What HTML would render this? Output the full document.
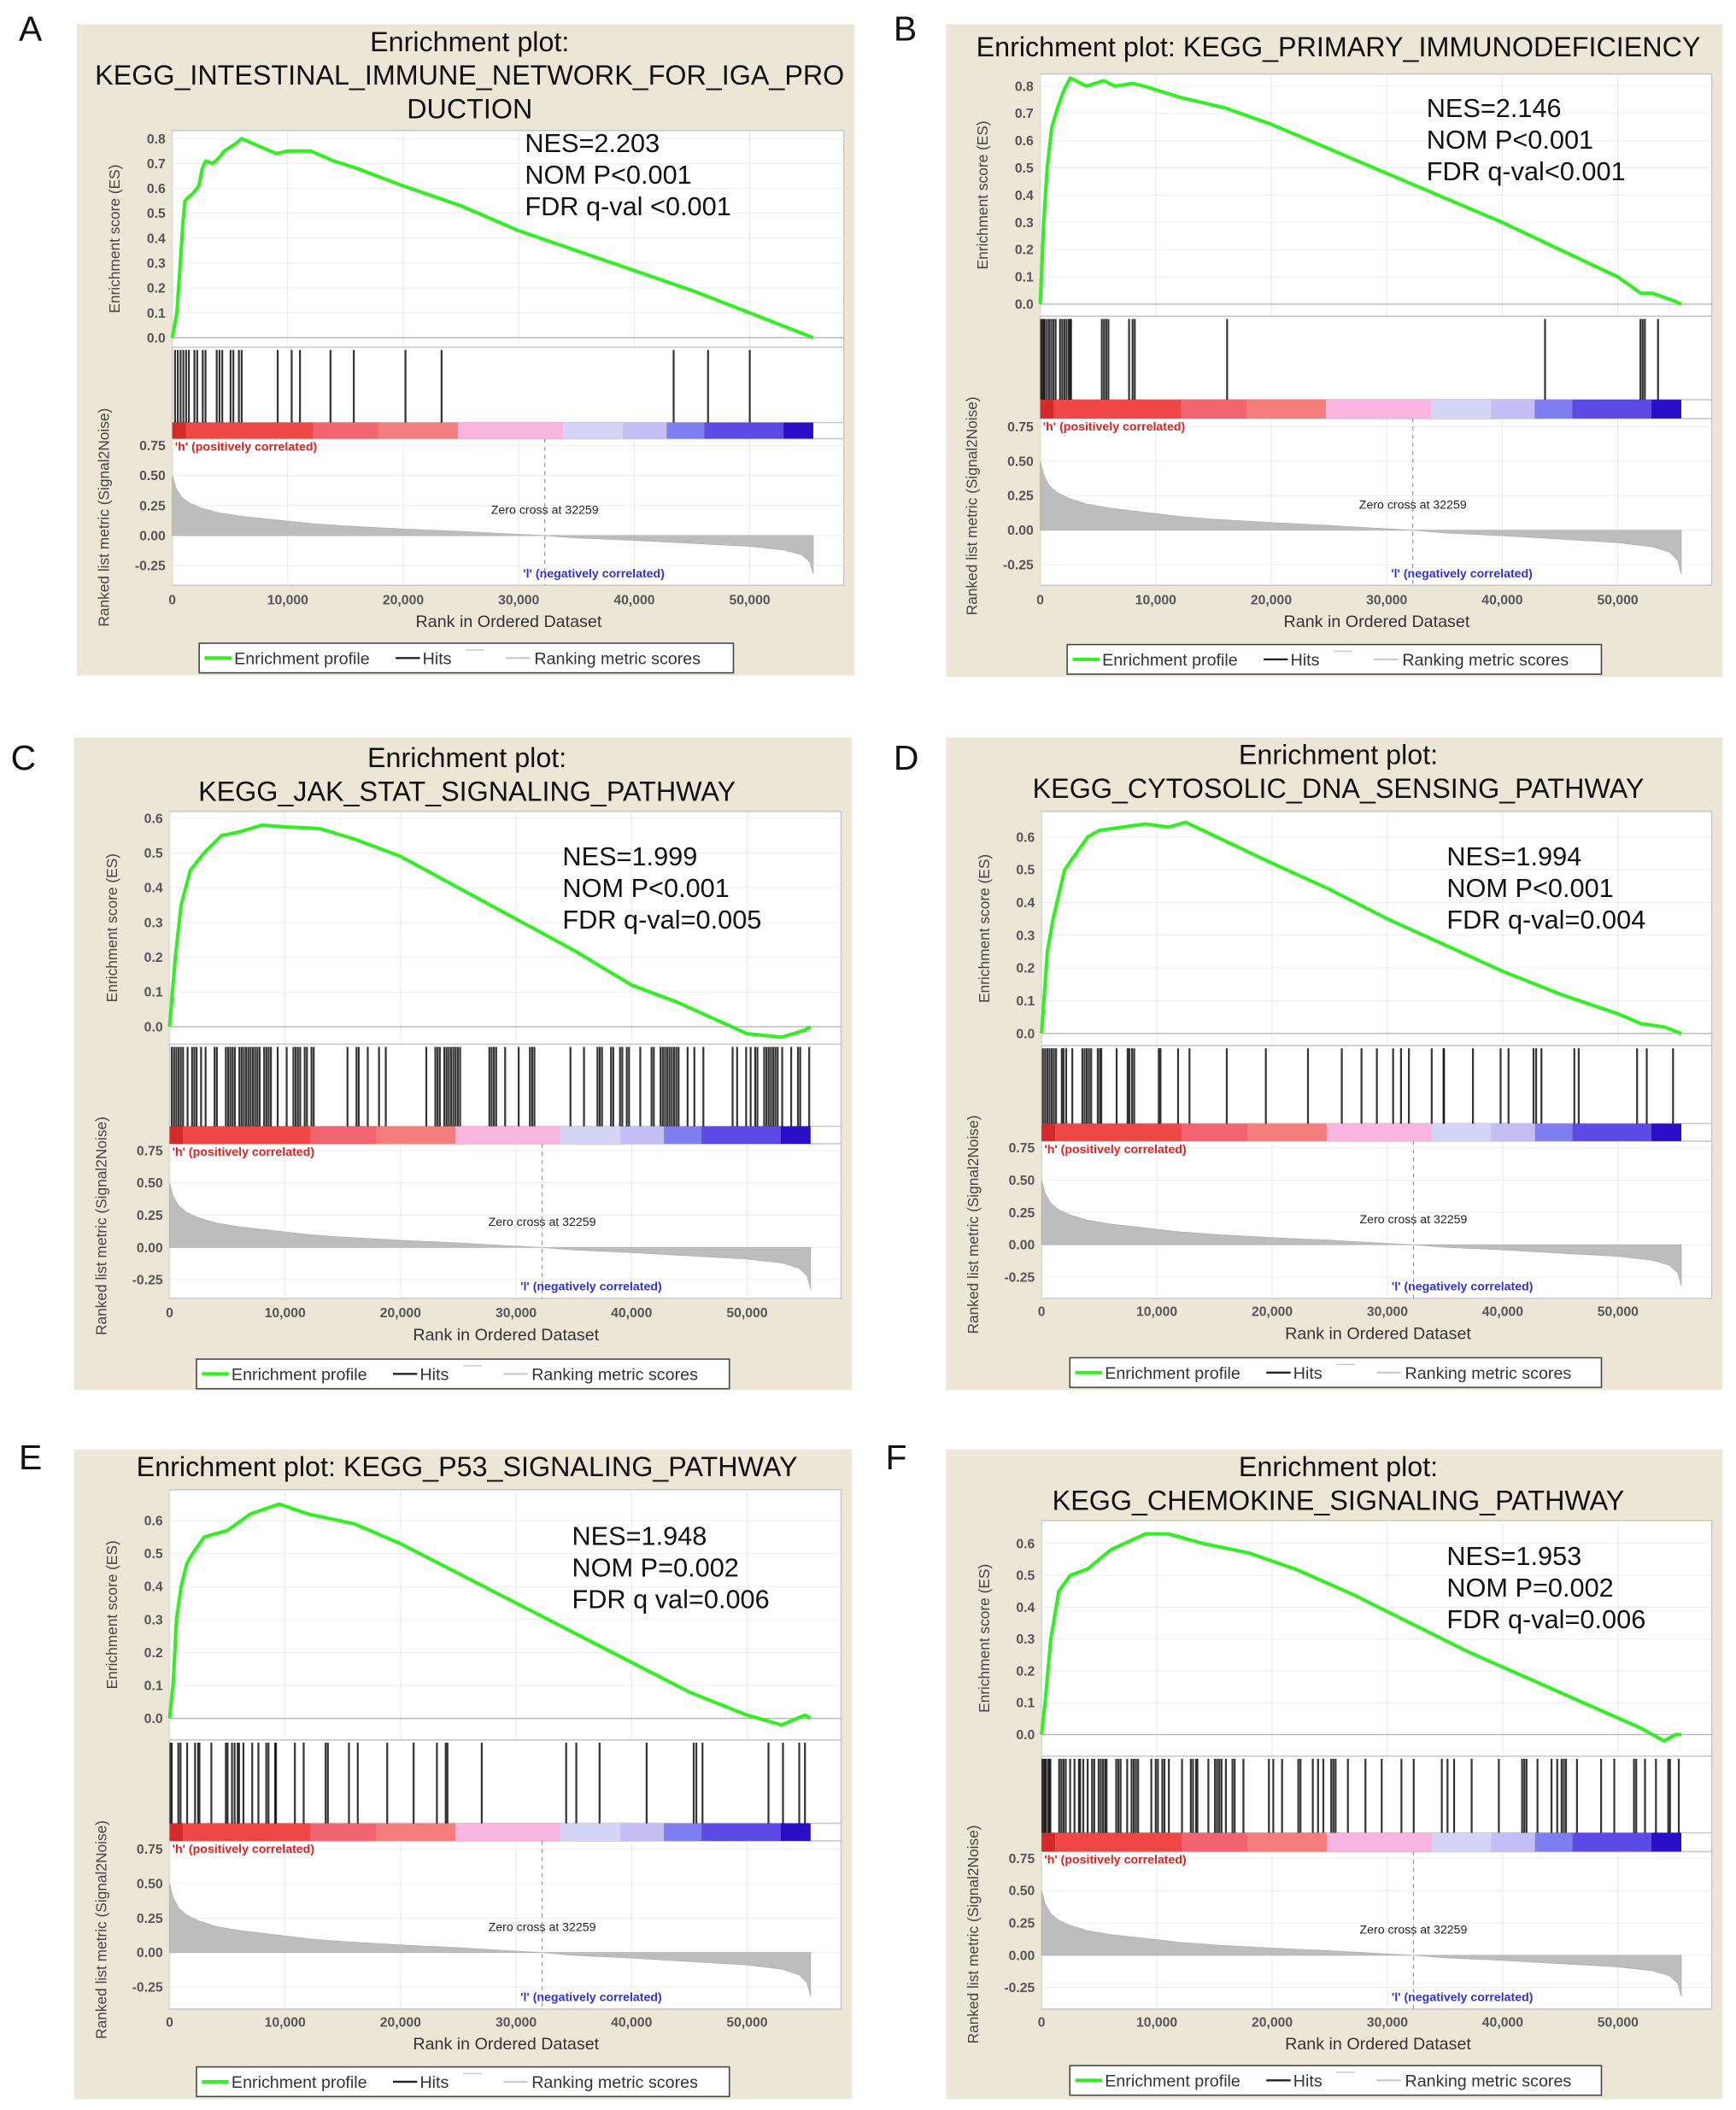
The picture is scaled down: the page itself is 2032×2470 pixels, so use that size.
<!DOCTYPE html>
<html><head><meta charset="utf-8"><style>
html,body{margin:0;padding:0;background:#fff;}
svg{display:block;font-family:"Liberation Sans",Arial,sans-serif;}
</style></head><body>
<svg id="fig" width="2032" height="2470" viewBox="0 0 1290 1568" preserveAspectRatio="none" xmlns="http://www.w3.org/2000/svg"></svg>
<script>
// ---------- DATA ----------
const xTicks = [0,10000,20000,30000,40000,50000];
const xTickLabels = ["0","10,000","20,000","30,000","40,000","50,000"];
const metricTicks = [0.75,0.5,0.25,0,-0.25];
const metricTickLabels = ["0.75","0.50","0.25","0.00","-0.25"];
const totalRank = 55500;
const zeroCross = 32259;
const metricRanks = [0,300,800,1500,2500,4000,6000,8000,10000,12000,15000,20000,25000,29000,32259,35000,40000,45000,50000,53000,54500,55200,55500];
const metricValues = [0.5,0.4,0.32,0.27,0.23,0.19,0.16,0.14,0.12,0.1,0.08,0.055,0.035,0.015,0,-0.02,-0.04,-0.065,-0.09,-0.12,-0.16,-0.22,-0.32];
const colorStarts = [0,1200,12200,17900,24750,33850,39000,42800,46050,52900];
const colorEnds = [1200,12200,17900,24750,33850,39000,42800,46050,52900,55500];
const colorValues = ["#d42a2a","#ef4646","#f26470","#f47e7e","#f9b4e0","#d6d4f6","#c4bef5","#7e7ef0","#5c4ae4","#2a0ec8"];

const esRanksA = [0,400,700,900,1100,1300,1800,2300,2600,2900,3500,4000,4500,5500,6000,7000,9000,10000,12000,14000,16000,20000,25000,30000,35000,40000,45000,50000,55500];
const esValuesA = [0,0.1,0.3,0.45,0.55,0.56,0.58,0.61,0.68,0.71,0.7,0.72,0.75,0.78,0.8,0.78,0.74,0.75,0.75,0.71,0.68,0.61,0.53,0.43,0.35,0.27,0.19,0.1,0];
const hitsA = [240,480,720,960,1200,1440,1920,2160,2640,2880,3850,4090,4330,5050,5290,5770,6010,9130,10340,11060,13700,15720,20190,23320,43410,46390,50000];

const esRanksB = [0,300,600,1000,1500,2000,2600,4000,5500,6500,8000,9000,12000,16000,20000,30000,40000,50000,52000,53000,55000,55500];
const esValuesB = [0,0.3,0.5,0.65,0.72,0.78,0.83,0.8,0.82,0.8,0.81,0.8,0.76,0.72,0.66,0.48,0.3,0.1,0.04,0.04,0.01,0];
const hitsB = [76,190,304,380,571,761,952,1142,1332,1713,1903,2094,2284,2475,2589,2665,5330,5520,5711,5901,7690,7995,8185,16180,43704,51965,52155,52346,53488];

const esRanksC = [0,500,1000,1800,3000,4500,6000,8000,10000,13000,16000,20000,25000,30000,35000,40000,44000,48000,50000,53000,54000,55000,55500];
const esValuesC = [0,0.2,0.35,0.45,0.5,0.55,0.56,0.58,0.575,0.57,0.54,0.49,0.4,0.31,0.22,0.12,0.07,0.01,-0.02,-0.03,-0.02,-0.01,0];
const hitsC = [195,390,585,780,975,1170,1560,1950,2145,2340,2730,3120,3900,4095,4875,5070,5265,5460,5655,6045,6240,6435,6630,6825,7020,7215,7410,7605,7800,8190,8385,8580,8775,9360,10140,10725,10920,11115,11310,11700,11895,12285,12480,15405,16185,16380,17160,18135,18720,22230,23010,23205,23400,23790,23985,24180,24375,24570,24765,24960,25155,27690,27885,28080,28275,29055,30225,31200,31395,31590,34710,35880,37050,37245,37440,38220,38415,39000,39195,39585,39780,40755,41730,41925,42510,42705,42900,43095,43290,43485,43680,43875,44070,44850,45435,46215,48750,49140,49920,50310,50700,50895,51480,51675,51870,52065,52260,52455,52650,53040,53820,54405,54600,55380];

const esRanksD = [0,500,1000,2000,3000,4000,5000,7000,9000,11000,12500,14000,20000,25000,30000,35000,40000,45000,50000,52000,54000,55500];
const esValuesD = [0,0.25,0.35,0.5,0.55,0.6,0.62,0.63,0.64,0.63,0.645,0.62,0.52,0.44,0.35,0.27,0.19,0.12,0.06,0.03,0.02,0];
const hitsD = [114,304,495,685,876,1066,1256,1751,1903,2132,2665,3540,3731,3921,4111,4302,4873,5063,5177,6510,7462,7614,7843,8033,10165,10317,11840,12830,16066,19454,23109,26040,27753,29085,30494,31179,31864,33844,34872,34910,37422,39820,40506,42676,42904,43361,46216,46597,51660,52497,54781];

const esRanksE = [0,300,600,1000,1500,2000,3000,5000,7000,9500,12000,16000,20000,25000,30000,35000,40000,45000,50000,53000,55000,55500];
const esValuesE = [0,0.1,0.3,0.4,0.47,0.5,0.55,0.57,0.62,0.65,0.62,0.59,0.53,0.44,0.35,0.26,0.17,0.08,0.01,-0.02,0.01,0];
const hitsE = [76,190,761,952,1523,2208,2475,2589,3617,4873,5025,5406,5634,5901,6015,6396,7157,7690,8375,8566,9137,9213,10850,11611,13514,13705,15533,16294,18844,21129,23147,23908,24060,27030,34338,35214,37232,41305,45379,45608,46141,51853,53109,54518,55013];

const esRanksF = [0,300,800,1500,2500,4000,6000,9000,11000,14000,18000,22000,27000,32000,37000,42000,47000,52000,54000,55000,55500];
const esValuesF = [0,0.1,0.3,0.45,0.5,0.52,0.58,0.63,0.63,0.6,0.57,0.52,0.44,0.35,0.26,0.18,0.1,0.02,-0.02,0,0];
const hitsF = [76,190,304,380,571,685,761,1523,1713,1903,2094,2475,2856,3236,3350,3617,3997,4378,4568,4949,5139,5330,5520,5634,6472,6662,6853,7424,7805,7995,8185,8375,9518,9899,10089,10470,10660,11041,12183,12944,13134,13400,13514,14466,15037,15227,15418,15608,15989,16560,16750,17511,19719,20100,20862,22270,22461,23527,23984,24441,25126,25317,25507,26573,28096,29504,31217,32283,34720,35214,35785,37308,39668,41686,41876,42067,43019,44237,44732,45112,45303,45493,46445,48539,49681,51394,51585,52346,53298,54364,54517,55279];

const esTicksA = [0,0.1,0.2,0.3,0.4,0.5,0.6,0.7,0.8];
const esTicksB = [0,0.1,0.2,0.3,0.4,0.5,0.6,0.7,0.8];
const esTicksC = [0,0.1,0.2,0.3,0.4,0.5,0.6];
const esTicksD = [0,0.1,0.2,0.3,0.4,0.5,0.6];
const esTicksE = [0,0.1,0.2,0.3,0.4,0.5,0.6];
const esTicksF = [0,0.1,0.2,0.3,0.4,0.5,0.6];

const statsA = ["NES=2.203","NOM P<0.001","FDR q-val <0.001"];
const statsB = ["NES=2.146","NOM P<0.001","FDR q-val<0.001"];
const statsC = ["NES=1.999","NOM P<0.001","FDR q-val=0.005"];
const statsD = ["NES=1.994","NOM P<0.001","FDR q-val=0.004"];
const statsE = ["NES=1.948","NOM P=0.002","FDR q val=0.006"];
const statsF = ["NES=1.953","NOM P=0.002","FDR q-val=0.006"];

// ---------- LAYOUT ----------
const panels = [
 {id:"a",letter:"A",lx:14,ly:30,bg:[57,18,578,484],px:128,pw:499,esTop:97,esBot:258,es0:251,esMax:0.8,esMaxY:103,hitBot:314,cbBot:326,mBot:435,m0:398,m75:331,tickY:449,labY:466,leg:[148,478,397,22],titles:[["Enrichment plot:",38],["KEGG_INTESTINAL_IMMUNE_NETWORK_FOR_IGA_PRO",63],["DUCTION",88]],sx:390,sy:113,es:esRanksA,ev:esValuesA,hits:hitsA,et:esTicksA,st:statsA},
 {id:"b",letter:"B",lx:664,ly:30,bg:[703,18,577,485],px:773,pw:499,esTop:55,esBot:235,es0:226,esMax:0.8,esMaxY:64,hitBot:297,cbBot:311,mBot:435,m0:394,m75:317,tickY:449,labY:466,leg:[793,479,397,22],titles:[["Enrichment plot: KEGG_PRIMARY_IMMUNODEFICIENCY",42]],sx:1060,sy:87,es:esRanksB,ev:esValuesB,hits:hitsB,et:esTicksB,st:statsB},
 {id:"c",letter:"C",lx:8,ly:572,bg:[55,548,578,485],px:126,pw:499,esTop:603,esBot:776,es0:763,esMax:0.6,esMaxY:608,hitBot:837,cbBot:850,mBot:965,m0:927,m75:855,tickY:979,labY:996,leg:[146,1010,396,22],titles:[["Enrichment plot:",570],["KEGG_JAK_STAT_SIGNALING_PATHWAY",595]],sx:418,sy:643,es:esRanksC,ev:esValuesC,hits:hitsC,et:esTicksC,st:statsC},
 {id:"d",letter:"D",lx:664,ly:572,bg:[703,548,577,485],px:774,pw:498,esTop:603,esBot:777,es0:768,esMax:0.6,esMaxY:622,hitBot:835,cbBot:848,mBot:965,m0:925,m75:853,tickY:978,labY:995,leg:[795,1009,395,22],titles:[["Enrichment plot:",568],["KEGG_CYTOSOLIC_DNA_SENSING_PATHWAY",593]],sx:1075,sy:643,es:esRanksD,ev:esValuesD,hits:hitsD,et:esTicksD,st:statsD},
 {id:"e",letter:"E",lx:14,ly:1092,bg:[55,1077,578,483],px:126,pw:499,esTop:1107,esBot:1293,es0:1277,esMax:0.6,esMaxY:1130,hitBot:1355,cbBot:1368,mBot:1493,m0:1451,m75:1374,tickY:1506,labY:1523,leg:[146,1536,396,22],titles:[["Enrichment plot: KEGG_P53_SIGNALING_PATHWAY",1097]],sx:425,sy:1148,es:esRanksE,ev:esValuesE,hits:hitsE,et:esTicksE,st:statsE},
 {id:"f",letter:"F",lx:658,ly:1092,bg:[703,1077,577,483],px:774,pw:498,esTop:1130,esBot:1305,es0:1289,esMax:0.6,esMaxY:1147,hitBot:1362,cbBot:1376,mBot:1493,m0:1453,m75:1381,tickY:1506,labY:1523,leg:[795,1535,395,22],titles:[["Enrichment plot:",1097],["KEGG_CHEMOKINE_SIGNALING_PATHWAY",1122]],sx:1075,sy:1163,es:esRanksF,ev:esValuesF,hits:hitsF,et:esTicksF,st:statsF}
];

const NS="http://www.w3.org/2000/svg";
const svg=document.getElementById("fig");
function mk(tag,attrs,parent,text){const e=document.createElementNS(NS,tag);for(const k in attrs)e.setAttribute(k,attrs[k]);if(text!==undefined)e.textContent=text;(parent||svg).appendChild(e);return e;}

panels.forEach(p=>{
  const g=mk("g",{});
  
  
  const xs=r=>p.px+r*(p.pw*0.86/50000);
  const ys=v=>p.es0+(p.esMaxY-p.es0)*(v/p.esMax);
  const ym=v=>p.m0+(p.m75-p.m0)*(v/0.75);
  const L=mk("text",{x:p.lx,y:p.ly,"font-size":26,fill:"#111"},g,p.letter);
  
  
  const bg=mk("rect",{x:p.bg[0],y:p.bg[1],width:p.bg[2],height:p.bg[3],fill:"#ece6d6"},g);
  
  
  p.titles.forEach(t=>{
    const tt=mk("text",{x:p.bg[0]+p.bg[2]/2+3,y:t[1],"font-size":20.5,"text-anchor":"middle",fill:"#111"},g,t[0]);
    
    
  });
  const pr=p.px+p.pw;
  mk("rect",{x:p.px,y:p.esTop,width:p.pw,height:p.mBot-p.esTop,fill:"#fff",stroke:"#c8c8c8","stroke-width":1},g);
  xTicks.forEach(t=>{mk("line",{x1:xs(t),x2:xs(t),y1:p.esTop,y2:p.esBot,stroke:"#e6e6e6","stroke-width":0.6},g);mk("line",{x1:xs(t),x2:xs(t),y1:p.cbBot,y2:p.mBot,stroke:"#e6e6e6","stroke-width":0.6},g);});
  p.et.forEach(t=>mk("line",{x1:p.px,x2:pr,y1:ys(t),y2:ys(t),stroke:"#ececec","stroke-width":0.6},g));
  metricTicks.forEach(t=>mk("line",{x1:p.px,x2:pr,y1:ym(t),y2:ym(t),stroke:"#ececec","stroke-width":0.6},g));
  mk("line",{x1:p.px,x2:pr,y1:p.esBot,y2:p.esBot,stroke:"#c8c8c8"},g);
  mk("line",{x1:p.px,x2:pr,y1:p.hitBot,y2:p.hitBot,stroke:"#c8c8c8"},g);
  mk("line",{x1:p.px,x2:pr,y1:p.cbBot,y2:p.cbBot,stroke:"#c8c8c8"},g);
  mk("line",{x1:p.px,x2:pr,y1:p.es0,y2:p.es0,stroke:"#b0b0b0","stroke-width":0.8},g);
  p.et.forEach(t=>{const tx=mk("text",{x:p.px-5,y:ys(t)+3.5,"font-size":10,"font-weight":"bold","text-anchor":"end",fill:"#555"},g,t.toFixed(1));
    
    });
  const ya=mk("text",{transform:`translate(${p.px-39},${(p.esTop+p.esBot)/2}) rotate(-90)`,"font-size":11,"text-anchor":"middle",fill:"#444"},g,"Enrichment score (ES)");
  
  
  let d=`M${xs(metricRanks[0])},${ym(0)}`;
  metricRanks.forEach((r,i)=>{d+=` L${xs(r)},${ym(metricValues[i])}`;});
  d+=` L${xs(totalRank)},${ym(0)} Z`;
  const mf=mk("path",{d:d,fill:"#bdbdbd",stroke:"#b0b0b0","stroke-width":0.5},g);
  
  
  mk("line",{x1:xs(zeroCross),x2:xs(zeroCross),y1:p.cbBot,y2:p.mBot,stroke:"#999","stroke-dasharray":"3,3","stroke-width":0.8},g);
  const zc=mk("text",{x:xs(zeroCross),y:ym(0)-16,"font-size":9,"text-anchor":"middle",fill:"#222"},g,"Zero cross at "+zeroCross);
  
  
  const hp=mk("text",{x:p.px+2,y:p.cbBot+9,"font-size":9,"font-weight":"bold",fill:"#e02020"},g,"'h' (positively correlated)");
  
  
  const ln=mk("text",{x:xs(36500),y:p.mBot-6,"font-size":9,"font-weight":"bold",fill:"#3030e0","text-anchor":"middle"},g,"'l' (negatively correlated)");
  
  
  metricTicks.forEach((t,i)=>{const tx=mk("text",{x:p.px-5,y:ym(t)+3.5,"font-size":10,"font-weight":"bold","text-anchor":"end",fill:"#555"},g,metricTickLabels[i]);
    
    });
  const ma=mk("text",{transform:`translate(${p.px-47},${(p.hitBot+p.mBot)/2+10}) rotate(-90)`,"font-size":11,"text-anchor":"middle",fill:"#444"},g,"Ranked list metric (Signal2Noise)");
  
  
  colorStarts.forEach((s,i)=>{const r=mk("rect",{x:xs(s),y:p.hitBot,width:xs(colorEnds[i])-xs(s),height:p.cbBot-p.hitBot,fill:colorValues[i]},g);
    
    });
  p.hits.forEach(h=>{const l=mk("line",{x1:xs(h),x2:xs(h),y1:p.esBot+2,y2:p.hitBot,stroke:"#111","stroke-width":1.4,"stroke-opacity":0.85},g);
    
    });
  let pts=p.es.map((r,i)=>`${xs(r)},${ys(p.ev[i])}`).join(" ");
  const c=mk("polyline",{points:pts,fill:"none",stroke:"#33ee22","stroke-width":2.6,"stroke-linejoin":"round"},g);
  
  
  p.st.forEach((s,i)=>{const t=mk("text",{x:p.sx,y:p.sy+i*23.5,"font-size":19.5,fill:"#111"},g,s);
    
    });
  xTicks.forEach((t,i)=>{const tx=mk("text",{x:xs(t),y:p.tickY,"font-size":10,"font-weight":"bold","text-anchor":"middle",fill:"#555"},g,xTickLabels[i]);
    
    });
  const xa=mk("text",{x:p.px+250,y:p.labY,"font-size":12.5,"text-anchor":"middle",fill:"#333"},g,"Rank in Ordered Dataset");
  
  
  const lg=mk("g",{},g);
  
  
  const [lx,ly,lw,lh]=p.leg;
  mk("rect",{x:lx,y:ly,width:lw,height:lh,fill:"#fff",stroke:"#444","stroke-width":1},lg);
  const cy=ly+lh/2;
  mk("line",{x1:lx+4,x2:lx+24,y1:cy,y2:cy,stroke:"#33ee22","stroke-width":2.6},lg);
  const e1=mk("text",{x:lx+26,y:cy+4.5,"font-size":12.5,fill:"#333"},lg,"Enrichment profile");
  
  
  mk("line",{x1:lx+146,x2:lx+164,y1:cy,y2:cy,stroke:"#222","stroke-width":1.5},lg);
  const e2=mk("text",{x:lx+166,y:cy+4.5,"font-size":12.5,fill:"#333"},lg,"Hits");
  
  
  mk("line",{x1:lx+198,x2:lx+212,y1:cy-6,y2:cy-6,stroke:"#ccc","stroke-width":1},lg);
  mk("line",{x1:lx+228,x2:lx+246,y1:cy,y2:cy,stroke:"#ccc","stroke-width":1.5},lg);
  const e3=mk("text",{x:lx+249,y:cy+4.5,"font-size":12.5,fill:"#333"},lg,"Ranking metric scores");
  
  
});
</script>
</body></html>
